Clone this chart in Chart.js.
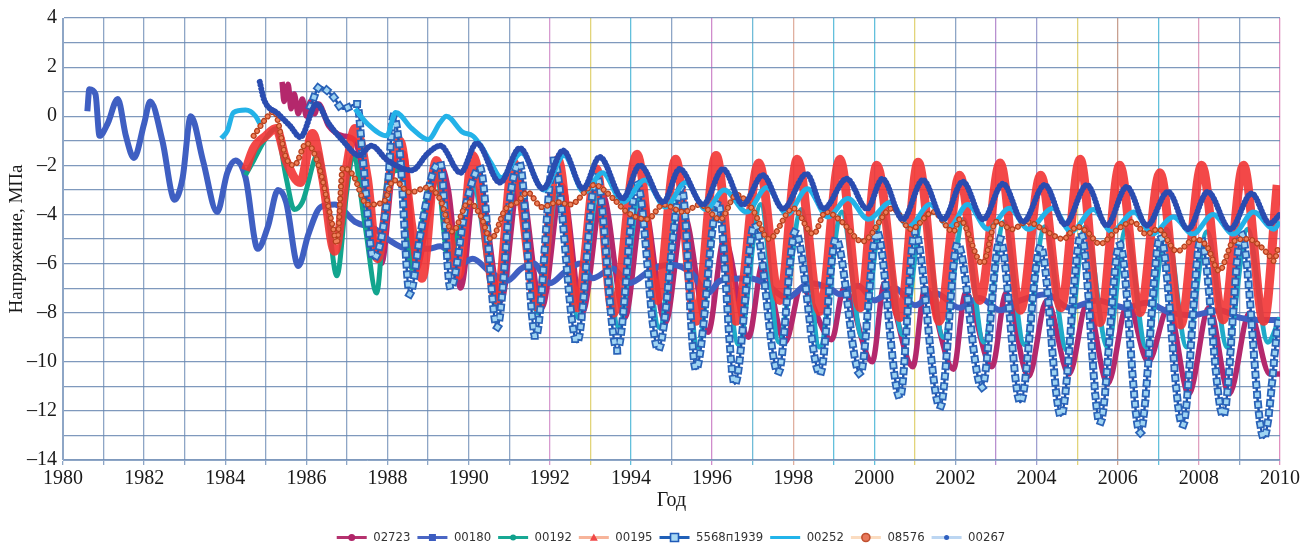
<!DOCTYPE html>
<html>
<head>
<meta charset="utf-8">
<script src="https://cdn.jsdelivr.net/npm/chart.js@4"></script>
<style>
  html, body { margin: 0; padding: 0; background: #fff; }
  #wrap { width: 1316px; height: 551px; }
</style>
</head>
<body>
<div id="wrap"><canvas id="c" width="1316" height="551"></canvas></div>
<script>
// series: [year, MPa]
const s02723 = [[1985.4,1.4],[1985.45,0.6],[1985.55,1.3],[1985.62,0.3],[1985.7,0.9],[1985.8,0.1],[1985.9,0.7],[1986.0,0.0],[1986.1,0.6],[1986.2,0.1],[1986.3,0.5],[1986.55,-0.4],[1986.9,-0.8],[1987.2,-1.0],[1987.55,-4.0],[1987.85,-6.0],[1988.15,-2.0],[1988.4,-1.5],[1988.7,-6.3],[1989.0,-4.0],[1989.3,-2.0],[1989.5,-3.0],[1989.8,-7.0],[1990.2,-2.2],[1990.8,-7.5],[1991.25,-2.5],[1991.8,-7.8],[1992.3,-2.8],[1992.8,-8.0],[1993.3,-3.2],[1993.85,-8.2],[1994.3,-3.5],[1994.85,-8.4],[1995.3,-4.0],[1995.9,-8.8],[1996.3,-5.0],[1996.9,-9.0],[1997.25,-6.0],[1997.8,-9.2],[1998.2,-7.0],[1998.95,-9.1],[1999.25,-7.0],[1999.95,-10.0],[2000.25,-6.8],[2000.95,-10.2],[2001.25,-7.0],[2001.95,-10.3],[2002.25,-7.2],[2002.9,-10.2],[2003.25,-7.2],[2003.8,-10.6],[2004.25,-7.5],[2004.8,-10.5],[2005.25,-7.6],[2005.75,-10.9],[2006.25,-7.6],[2006.75,-10.0],[2007.25,-7.8],[2007.75,-11.3],[2008.25,-7.8],[2008.75,-11.3],[2009.25,-8.0],[2009.75,-10.5],[2010.0,-10.5]];

const s00180 = [[1980.6,0.2],[1980.65,1.1],[1980.8,0.9],[1980.9,-0.8],[1981.1,-0.3],[1981.35,0.7],[1981.55,-0.8],[1981.75,-1.7],[1982.0,-0.3],[1982.15,0.6],[1982.45,-1.0],[1982.75,-3.4],[1982.95,-2.5],[1983.15,0.0],[1983.45,-1.8],[1983.8,-3.9],[1984.05,-2.3],[1984.25,-1.8],[1984.5,-2.5],[1984.8,-5.4],[1985.05,-4.5],[1985.3,-3.0],[1985.5,-3.5],[1985.8,-6.1],[1986.05,-4.8],[1986.35,-3.7],[1986.7,-3.6],[1987.2,-4.3],[1987.7,-4.6],[1988.0,-5.0],[1988.5,-5.4],[1989.0,-5.4],[1989.3,-5.3],[1989.8,-6.0],[1990.1,-5.8],[1990.5,-6.3],[1990.95,-6.7],[1991.3,-6.2],[1991.6,-6.0],[1992.0,-6.8],[1992.4,-6.3],[1992.75,-6.0],[1993.05,-6.6],[1993.55,-6.2],[1993.95,-6.8],[1994.55,-6.2],[1995.0,-6.05],[1995.5,-6.4],[1995.9,-7.2],[1996.2,-6.7],[1996.9,-6.6],[1997.3,-6.8],[1997.85,-7.4],[1998.4,-6.8],[1998.9,-7.0],[1999.15,-7.25],[1999.6,-6.9],[2000.0,-7.5],[2000.5,-7.0],[2001.0,-7.7],[2001.5,-7.2],[2002.1,-7.8],[2002.6,-7.4],[2003.1,-7.9],[2003.6,-7.5],[2004.25,-7.25],[2004.8,-7.8],[2005.5,-7.5],[2006.2,-7.8],[2006.7,-7.6],[2007.3,-8.0],[2007.85,-8.1],[2008.5,-7.9],[2009.0,-8.2],[2009.5,-8.3],[2010.0,-8.3]];

const s00192 = [[1984.5,-2.4],[1984.7,-1.8],[1985.0,-0.9],[1985.25,-0.5],[1985.5,-2.5],[1985.7,-3.8],[1985.9,-3.5],[1986.3,-1.5],[1986.5,-3.5],[1986.75,-6.5],[1987.0,-3.0],[1987.15,-1.6],[1987.45,-4.5],[1987.73,-7.2],[1988.0,-2.5],[1988.3,-2.2],[1988.6,-6.2],[1989.0,-3.0],[1989.2,-2.2],[1989.5,-5.8],[1990.1,-2.8],[1990.7,-7.8],[1991.15,-2.8],[1991.7,-8.0],[1992.2,-3.0],[1992.7,-8.2],[1993.2,-3.0],[1993.7,-8.6],[1994.2,-3.4],[1994.7,-8.6],[1995.2,-3.3],[1995.65,-9.4],[1996.15,-3.5],[1996.65,-9.3],[1997.2,-3.6],[1997.65,-9.2],[1998.2,-3.8],[1998.65,-9.4],[1999.2,-3.9],[1999.7,-9.0],[2000.2,-4.0],[2000.7,-8.9],[2001.2,-4.0],[2001.7,-9.0],[2002.2,-4.2],[2002.7,-9.2],[2003.2,-4.3],[2003.7,-9.3],[2004.2,-4.5],[2004.75,-9.55],[2005.2,-4.5],[2005.75,-9.4],[2006.2,-4.6],[2006.7,-9.4],[2007.2,-4.6],[2007.7,-9.4],[2008.2,-4.7],[2008.7,-9.4],[2009.2,-4.6],[2009.7,-9.2],[2010.0,-8.2]];

const s00195 = [[1984.5,-2.2],[1984.7,-1.3],[1985.0,-0.8],[1985.25,-0.5],[1985.5,-1.8],[1985.85,-2.7],[1986.15,-0.7],[1986.4,-2.5],[1986.7,-5.5],[1987.0,-2.0],[1987.2,-0.5],[1987.5,-2.5],[1987.75,-5.8],[1988.1,-2.0],[1988.3,-1.0],[1988.6,-4.5],[1988.85,-6.6],[1989.2,-1.8],[1989.5,-4.5],[1989.75,-6.5],[1990.1,-1.6],[1990.7,-7.5],[1991.1,-1.85],[1991.7,-7.8],[1992.2,-1.75],[1992.67,-7.8],[1993.15,-2.15],[1993.56,-8.05],[1994.15,-1.55],[1994.65,-7.5],[1995.1,-1.75],[1995.6,-8.35],[1996.1,-1.6],[1996.6,-8.35],[1997.15,-1.9],[1997.67,-7.5],[1998.1,-1.75],[1998.66,-7.95],[1999.15,-1.75],[1999.65,-7.8],[2000.06,-2.0],[2000.63,-8.2],[2001.08,-1.87],[2001.6,-8.35],[2002.1,-2.4],[2002.6,-7.5],[2003.1,-1.9],[2003.6,-7.9],[2004.1,-2.4],[2004.6,-7.8],[2005.07,-1.75],[2005.56,-8.4],[2006.05,-2.0],[2006.55,-8.0],[2007.04,-2.3],[2007.55,-8.5],[2008.07,-2.0],[2008.6,-8.3],[2009.1,-2.0],[2009.6,-8.35],[2009.93,-2.8]];

const s5568 = [[1986.1,0.4],[1986.33,1.2],[1986.66,0.8],[1986.9,0.3],[1987.25,0.5],[1987.4,-1.9],[1987.65,-5.8],[1987.98,-3.5],[1988.15,0.0],[1988.3,-1.4],[1988.55,-7.25],[1988.8,-4.9],[1989.1,-2.4],[1989.3,-1.9],[1989.55,-7.0],[1989.95,-3.5],[1990.28,-2.1],[1990.7,-8.6],[1991.05,-3.0],[1991.25,-1.9],[1991.65,-9.0],[1992.1,-1.8],[1992.67,-9.2],[1993.15,-2.4],[1993.66,-9.55],[1994.15,-2.75],[1994.67,-9.5],[1995.25,-2.9],[1995.6,-10.3],[1996.15,-3.5],[1996.56,-10.9],[1997.05,-4.4],[1997.63,-10.45],[1998.05,-4.7],[1998.66,-10.5],[1999.05,-5.0],[1999.65,-10.5],[2000.06,-4.7],[2000.63,-11.45],[2001.0,-4.7],[2001.62,-11.85],[2002.05,-5.2],[2002.65,-11.05],[2003.1,-5.0],[2003.6,-11.65],[2004.1,-5.3],[2004.6,-12.2],[2005.1,-4.8],[2005.56,-12.5],[2006.05,-5.2],[2006.55,-12.9],[2007.05,-4.9],[2007.6,-12.6],[2008.05,-5.0],[2008.6,-12.2],[2009.05,-4.8],[2009.6,-13.1],[2009.95,-8.4]];

const s00252 = [[1983.9,-0.9],[1984.05,-0.6],[1984.2,0.15],[1984.5,0.25],[1984.75,0.0],[1984.85,-0.3],[1986.0,null],[1987.2,0.3],[1987.5,-0.3],[1987.98,-0.8],[1988.2,0.15],[1988.6,-0.5],[1989.0,-0.95],[1989.3,-0.25],[1989.45,0.0],[1989.85,-0.65],[1990.1,-0.8],[1990.3,-1.2],[1990.55,-1.9],[1990.8,-2.5],[1991.3,-1.5],[1991.85,-3.0],[1992.35,-1.6],[1992.85,-3.1],[1993.3,-2.3],[1993.8,-3.5],[1994.35,-2.6],[1994.85,-3.7],[1995.35,-2.7],[1995.85,-3.8],[1996.3,-3.0],[1996.85,-3.9],[1997.35,-2.9],[1997.85,-4.0],[1998.35,-2.95],[1998.85,-4.1],[1999.35,-3.35],[1999.85,-4.2],[2000.4,-3.5],[2000.85,-4.5],[2001.37,-3.6],[2001.85,-4.5],[2002.3,-3.6],[2002.8,-4.6],[2003.33,-3.75],[2003.8,-4.6],[2004.4,-3.75],[2004.85,-4.7],[2005.4,-3.8],[2005.85,-4.7],[2006.4,-3.9],[2006.85,-4.8],[2007.37,-4.1],[2007.85,-4.8],[2008.35,-4.0],[2008.85,-4.8],[2009.35,-3.9],[2009.85,-4.6],[2010.0,-4.3]];

const s08576 = [[1984.7,-0.8],[1985.05,0.0],[1985.2,0.2],[1985.5,-1.7],[1985.7,-2.0],[1986.0,-1.1],[1986.3,-2.0],[1986.65,-4.5],[1986.75,-5.2],[1986.9,-2.1],[1987.15,-2.4],[1987.5,-3.6],[1987.9,-3.5],[1988.15,-2.6],[1988.55,-3.1],[1989.0,-2.9],[1989.3,-3.4],[1989.6,-4.7],[1990.0,-3.5],[1990.28,-4.0],[1990.55,-5.0],[1990.9,-3.8],[1991.2,-3.5],[1991.45,-3.1],[1991.8,-3.7],[1992.2,-3.5],[1992.5,-3.6],[1993.1,-2.8],[1993.56,-3.35],[1993.9,-3.9],[1994.4,-4.2],[1994.8,-3.6],[1995.3,-3.9],[1995.7,-3.6],[1996.2,-4.2],[1996.6,-3.2],[1997.0,-3.8],[1997.4,-5.0],[1998.0,-3.75],[1998.5,-4.8],[1998.8,-3.9],[1999.2,-4.3],[1999.7,-5.1],[2000.45,-3.75],[2000.9,-4.6],[2001.45,-3.9],[2001.95,-4.7],[2002.1,-4.2],[2002.67,-6.0],[2003.0,-4.3],[2003.4,-4.6],[2003.76,-4.3],[2004.25,-4.7],[2004.66,-5.0],[2005.0,-4.5],[2005.24,-4.7],[2005.56,-5.2],[2006.0,-4.6],[2006.38,-4.3],[2006.7,-4.8],[2007.0,-4.6],[2007.46,-5.5],[2007.9,-5.0],[2008.2,-5.3],[2008.5,-6.3],[2008.85,-5.1],[2009.2,-5.0],[2009.7,-5.6],[2009.85,-5.9],[2009.95,-5.4]];

const s00267 = [[1984.85,1.4],[1984.95,0.7],[1985.3,0.1],[1985.6,-0.4],[1985.85,-0.85],[1986.25,0.5],[1986.55,-0.3],[1986.9,-1.0],[1987.3,-1.6],[1987.6,-1.2],[1988.0,-1.8],[1988.6,-2.2],[1989.0,-1.5],[1989.3,-1.2],[1989.8,-2.3],[1990.2,-1.1],[1990.77,-2.7],[1991.26,-1.3],[1991.83,-2.95],[1992.33,-1.4],[1992.82,-2.95],[1993.23,-1.66],[1993.8,-3.35],[1994.22,-2.0],[1994.8,-3.5],[1995.2,-2.15],[1995.78,-3.6],[1996.27,-2.15],[1996.76,-3.6],[1997.25,-2.4],[1997.75,-3.77],[1998.33,-2.35],[1998.75,-3.77],[1999.32,-2.55],[1999.82,-3.77],[2000.2,-2.55],[2000.7,-4.2],[2001.2,-2.6],[2001.7,-4.2],[2002.18,-2.67],[2002.68,-4.2],[2003.17,-2.75],[2003.67,-4.3],[2004.2,-2.8],[2004.7,-4.4],[2005.24,-2.8],[2005.73,-4.45],[2006.22,-2.88],[2006.72,-4.45],[2007.24,-3.08],[2007.73,-4.6],[2008.22,-3.08],[2008.77,-4.6],[2009.3,-3.15],[2009.75,-4.37],[2010.0,-4.0]];

const legendNames = ['02723', '00180', '00192', '00195', '5568п1939', '00252', '08576', '00267'];
const legendLines = ['#b5326e', '#4a66c4', '#17a894', '#f7b49a', '#2060b8', '#22b4ea', '#fbdcc0', '#bcd6f2'];
const legendMarks = [
  { shape: 'circle', r: 3.5, fill: '#b02468' },
  { shape: 'square', r: 3.5, fill: '#3c5cc0' },
  { shape: 'circle', r: 3, fill: '#10a08c' },
  { shape: 'triangle', r: 4, fill: '#f04848' },
  { shape: 'square', r: 4, fill: '#a8d8f4', stroke: '#1f5ab8' },
  null,
  { shape: 'circle', r: 4, fill: '#e8785a', stroke: '#c05030' },
  { shape: 'circle', r: 2.5, fill: '#2f60c0' },
];

// grid colours of the scanned sheet, one per year 1980..2010
const GRID = '#8ea6c6';
const xGridColors = [GRID, GRID, GRID, GRID, GRID, GRID, GRID, GRID, GRID, GRID, GRID,
  GRID, '#d79bd0', '#e2d47a', '#62c0dc', GRID, '#d08ccc', '#70bcd8', '#e0b0a0', '#62c0dc',
  '#62c0dc', '#e2d47a', GRID, '#b890d0', '#a0a0d0', '#e2d47a', '#c8a090', '#62c0dc', '#e0a0c0', GRID, '#e090c0'];

const pts = arr => arr.map(p => ({ x: p[0], y: p[1] }));
const SERIF = "'Liberation Serif', 'Times New Roman', serif";

const datasets = [
  // drawn top first
  { label: '00267', data: pts(s00267), borderColor: '#2a4cb0', borderWidth: 6, borderDash: [0.01, 3.5], borderCapStyle: 'round' },
  { label: '08576in', data: pts(s08576), borderColor: '#f0805a', borderWidth: 3.5, borderDash: [0.01, 6], borderCapStyle: 'round' },
  { label: '08576out', data: pts(s08576), borderColor: '#b8401e', borderWidth: 6, borderDash: [0.01, 6], borderCapStyle: 'round' },
  { label: '08576', data: pts(s08576), borderColor: '#f9cfa8', borderWidth: 2 },
  { label: '00252', data: pts(s00252), borderColor: '#23b2e8', borderWidth: 5 },
  { label: '5568in', data: pts(s5568), borderColor: '#9fd4f2', borderWidth: 4.5, borderDash: [0.01, 10], borderCapStyle: 'square' },
  { label: '5568out', data: pts(s5568), borderColor: '#2a63b8', borderWidth: 8, borderDash: [0.01, 10], borderCapStyle: 'square' },
  { label: '5568п1939', data: pts(s5568), borderColor: '#1f55b0', borderWidth: 2.5 },
  { label: '00195', data: pts(s00195), borderColor: 'rgba(242,52,52,0.9)', borderWidth: 9 },
  { label: '00192', data: pts(s00192), borderColor: '#1fabc8', borderWidth: 5,
    segment: { borderColor: c => c.p0.parsed.x < 1990 ? '#12a58e' : undefined } },
  { label: '00180', data: pts(s00180), borderColor: '#3f5fc2', borderWidth: 6 },
  { label: '02723', data: pts(s02723), borderColor: '#b4286c', borderWidth: 5.5 },
];

const whiteBg = {
  id: 'whiteBg',
  beforeDraw(chart) {
    const ctx = chart.ctx;
    ctx.save();
    ctx.fillStyle = '#fff';
    ctx.fillRect(0, 0, chart.width, chart.height);
    ctx.restore();
  }
};

// the scanned legend sits a little right of centre and a bit lower
const legendShift = {
  id: 'legendShift',
  afterLayout(chart) {
    const lg = chart.legend;
    lg.left += 31; lg.right += 31;
    lg.top += 3; lg.bottom += 3;
  }
};

const BOXW = 30;
const LFONT = 13;
const legendMarkers = {
  id: 'legendMarkers',
  afterDraw(chart) {
    const lg = chart.legend;
    if (!lg || !lg.legendHitBoxes) return;
    const ctx = chart.ctx;
    ctx.save();
    lg.legendHitBoxes.forEach((hb, i) => {
      const m = legendMarks[i];
      if (!m) return;
      const cx = hb.left + BOXW / 2;
      const cy = hb.top + LFONT / 2;
      ctx.beginPath();
      if (m.shape === 'circle') {
        ctx.arc(cx, cy, m.r, 0, Math.PI * 2);
      } else if (m.shape === 'square') {
        ctx.rect(cx - m.r, cy - m.r, m.r * 2, m.r * 2);
      } else {
        ctx.moveTo(cx, cy - m.r);
        ctx.lineTo(cx + m.r, cy + m.r * 0.8);
        ctx.lineTo(cx - m.r, cy + m.r * 0.8);
        ctx.closePath();
      }
      ctx.fillStyle = m.fill;
      ctx.fill();
      if (m.stroke) {
        ctx.lineWidth = 1.6;
        ctx.strokeStyle = m.stroke;
        ctx.stroke();
      }
    });
    ctx.restore();
  }
};

new Chart(document.getElementById('c'), {
  type: 'line',
  data: { datasets },
  plugins: [whiteBg, legendShift, legendMarkers],
  options: {
    responsive: false,
    animation: false,
    layout: { padding: { top: 15, right: 36, bottom: 0, left: 0 } },
    datasets: {
      line: {
        pointRadius: 0,
        pointHoverRadius: 0,
        fill: false,
        spanGaps: false,
        cubicInterpolationMode: 'monotone',
      }
    },
    plugins: {
      tooltip: { enabled: false },
      legend: {
        position: 'bottom',
        onClick: null,
        labels: {
          boxWidth: BOXW,
          boxHeight: 3,
          padding: 7,
          color: '#333',
          font: { family: "'Liberation Sans Narrow', 'DejaVu Sans Condensed', 'Arial Narrow', sans-serif", size: LFONT },
          generateLabels: () => legendNames.map((name, i) => ({
            text: name,
            fillStyle: legendLines[i],
            strokeStyle: legendLines[i],
            lineWidth: 0,
            hidden: false,
            fontColor: '#333',
          })),
        }
      }
    },
    scales: {
      x: {
        type: 'linear',
        min: 1980,
        max: 2010,
        afterFit: s => { s.height = 61; },
        ticks: {
          stepSize: 1,
          autoSkip: false,
          maxRotation: 0,
          padding: 2,
          color: '#1a1a1a',
          font: { family: SERIF, size: 20 },
          callback: v => (v % 2 === 0 ? String(v) : ''),
        },
        grid: {
          color: c => xGridColors[c.index] || GRID,
          lineWidth: 1.3,
          tickLength: 5,
        },
        border: { color: GRID },
        title: {
          display: true,
          text: 'Год',
          color: '#1a1a1a',
          font: { family: SERIF, size: 20 },
          padding: { top: 0, bottom: 8 },
        }
      },
      y: {
        min: -14,
        max: 4,
        afterFit: s => { s.width = 63; },
        ticks: {
          stepSize: 1,
          autoSkip: false,
          padding: 6,
          color: '#1a1a1a',
          font: { family: SERIF, size: 20 },
          callback: v => (v % 2 === 0 ? (v < 0 ? '–' + Math.abs(v) : String(v)) : ''),
        },
        grid: {
          color: 'rgba(105,135,178,0.85)',
          lineWidth: 1.2,
          tickLength: 0,
        },
        border: { color: GRID },
        title: {
          display: true,
          text: 'Напряжение, МПа',
          color: '#1a1a1a',
          font: { family: SERIF, size: 19 },
          padding: { top: 6, bottom: 0 },
        }
      }
    }
  }
});
</script>
</body>
</html>
